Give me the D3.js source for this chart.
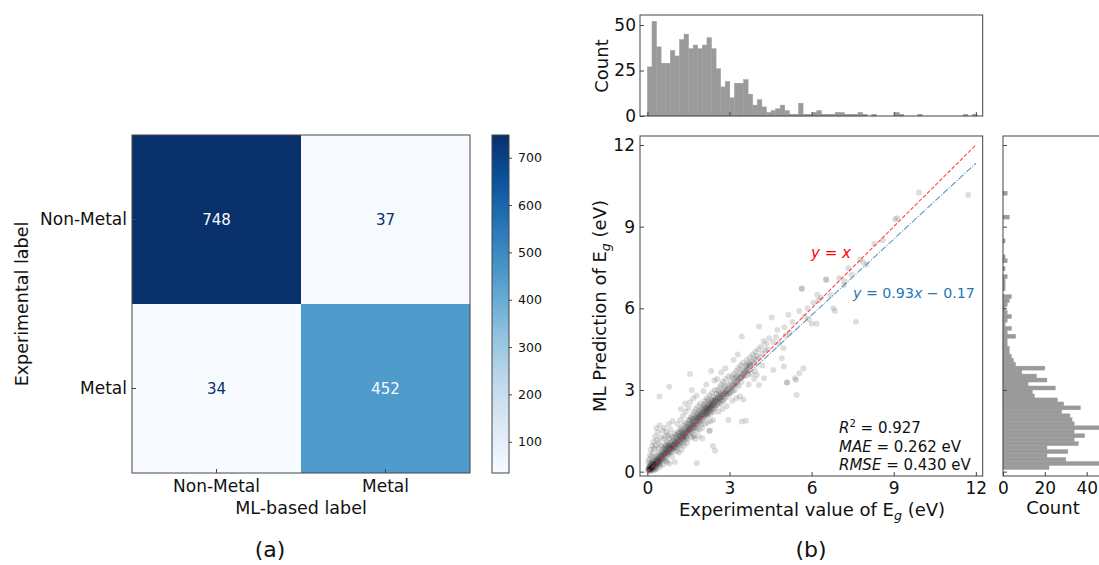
<!DOCTYPE html>
<html>
<head>
<meta charset="utf-8">
<script src="https://cdn.jsdelivr.net/npm/d3@7"></script>
<style>
  body { margin: 0; background: #fff; }
  svg { display: block; font-family: 'DejaVu Sans', sans-serif; }
</style>
</head>
<body>
<div id="chart"></div>
<script>
// ---- (a) confusion matrix ----
const classes = ['Non-Metal', 'Metal'];
const matrix = [[748, 37], [34, 452]];
const cbarTicks = [100, 200, 300, 400, 500, 600, 700];

// ---- (b) parity plot ----
const gapTicks = [0, 3, 6, 9, 12];
const fitSlope = 0.93;
const fitIntercept = 0.17; // where the drawn fit line sits in the picture
const fitLabel = 'y = 0.93x \u2212 0.17';
const statLines = [
  ['R', '2', ' = 0.927'],
  ['MAE', '', ' = 0.262 eV'],
  ['RMSE', '', ' = 0.430 eV']
];

// [experimental, predicted] pairs
const points = [
  [0.02,0.05],[0.04,0.12],[0.05,0.02],[0.06,0.2],[0.07,0.09],[0.08,0.15],[0.09,0.04],[0.1,0.1],[0.1,0.22],[0.11,0.3],
  [0.12,0.07],[0.13,0.16],[0.14,0.25],[0.15,0.12],[0.16,0.35],[0.17,0.2],[0.18,0.08],[0.19,0.28],[0.2,0.18],[0.21,0.4],
  [0.22,0.12],[0.23,0.3],[0.24,0.22],[0.25,0.5],[0.26,0.16],[0.27,0.34],[0.28,0.26],[0.29,0.42],[0.3,0.2],[0.31,0.3],
  [0.32,0.55],[0.33,0.38],[0.34,0.25],[0.35,0.45],[0.36,0.32],[0.37,0.6],[0.38,0.4],[0.39,0.28],[0.4,0.5],[0.41,0.36],
  [0.42,0.7],[0.43,0.45],[0.44,0.33],[0.45,0.55],[0.46,0.42],[0.47,0.25],[0.48,0.62],[0.49,0.48],[0.5,0.38],[0.03,0.35],
  [0.06,0.45],[0.09,0.6],[0.12,0.8],[0.15,0.55],[0.18,0.95],[0.2,0.7],[0.22,1.1],[0.25,0.85],[0.28,1.3],[0.3,0.95],
  [0.33,1.6],[0.35,1.15],[0.38,1.45],[0.4,0.85],[0.42,1.05],[0.45,1.7],[0.48,1.25],[0.5,0.95],[0.15,0.02],[0.25,0.05],
  [0.35,0.12],[0.45,0.18],[0.3,0.08],[0.2,0.3],[0.12,0.18],[0.08,0.08],[0.16,0.14],[0.24,0.28],[0.05,0.1],[0.1,0.14],
  [0.52,0.55],[0.53,0.7],[0.54,0.45],[0.55,0.62],[0.56,0.8],[0.57,0.5],[0.58,0.66],[0.59,0.9],[0.6,0.58],[0.61,0.72],
  [0.62,0.45],[0.63,0.85],[0.64,0.65],[0.65,1.0],[0.66,0.7],[0.67,0.55],[0.68,0.82],[0.69,0.95],[0.7,0.68],[0.71,0.78],
  [0.72,1.1],[0.73,0.6],[0.74,0.88],[0.75,0.75],[0.76,1.0],[0.77,0.65],[0.78,0.92],[0.79,0.8],[0.8,1.2],[0.81,0.72],
  [0.82,0.95],[0.83,0.85],[0.84,1.05],[0.85,0.7],[0.86,0.9],[0.87,1.3],[0.88,0.82],[0.89,1.0],[0.9,0.9],[0.91,0.75],
  [0.92,1.1],[0.93,0.95],[0.94,1.25],[0.95,0.85],[0.96,1.0],[0.97,1.15],[0.98,0.9],[0.99,1.4],[1.0,1.05],[0.55,1.5],
  [0.62,1.6],[0.7,1.45],[0.78,1.75],[0.85,1.55],[0.92,1.85],[0.6,1.2],[0.75,1.35],[0.58,0.25],[0.8,0.3],[1.0,0.35],
  [0.68,0.4],[0.9,0.55],[0.65,1.3],[0.72,0.35],[0.44,2.76],[0.8,3.12],
  [1.02,1.1],[1.03,0.9],[1.04,1.25],[1.05,1.0],[1.06,1.35],[1.07,1.05],[1.08,0.85],[1.09,1.2],[1.1,1.1],[1.11,1.45],
  [1.12,1.0],[1.13,1.3],[1.14,1.15],[1.15,0.95],[1.16,1.4],[1.17,1.2],[1.18,1.55],[1.19,1.1],[1.2,1.3],[1.21,1.0],
  [1.22,1.45],[1.23,1.25],[1.24,1.6],[1.25,1.15],[1.26,1.35],[1.27,1.5],[1.28,1.2],[1.29,1.05],[1.3,1.4],[1.31,1.3],
  [1.32,1.7],[1.33,1.25],[1.34,1.45],[1.35,1.15],[1.36,1.55],[1.37,1.35],[1.38,1.8],[1.39,1.4],[1.4,1.25],[1.41,1.6],
  [1.42,1.45],[1.43,1.3],[1.44,1.75],[1.45,1.5],[1.46,1.2],[1.47,1.65],[1.48,1.4],[1.49,1.55],[1.5,1.9],[1.1,1.75],
  [1.2,1.9],[1.3,2.05],[1.4,2.2],[1.15,0.7],[1.25,0.8],[1.35,0.95],[1.45,1.05],[1.05,0.75],[1.38,2.5],[1.22,2.3],
  [1.51,1.6],[1.52,1.4],[1.53,1.75],[1.54,1.55],[1.55,1.9],[1.56,1.5],[1.57,1.7],[1.58,2.0],[1.59,1.6],[1.6,1.8],
  [1.61,1.45],[1.62,1.95],[1.63,1.7],[1.64,1.6],[1.65,2.1],[1.66,1.8],[1.67,1.55],[1.68,1.9],[1.69,1.75],[1.7,2.2],
  [1.71,1.65],[1.72,1.85],[1.73,2.0],[1.74,1.7],[1.75,1.95],[1.76,1.6],[1.77,2.3],[1.78,1.85],[1.79,2.05],[1.8,1.75],
  [1.81,1.95],[1.82,2.15],[1.83,1.7],[1.84,2.0],[1.85,2.4],[1.86,1.9],[1.87,2.1],[1.88,1.8],[1.89,2.25],[1.9,2.0],
  [1.91,1.85],[1.92,2.1],[1.93,2.5],[1.94,1.95],[1.95,2.2],[1.96,2.05],[1.97,1.75],[1.98,2.3],[1.99,2.1],[2.0,1.9],
  [1.6,1.25],[1.7,1.35],[1.8,1.5],[1.9,1.55],[2.0,1.6],[1.56,2.55],[1.68,2.7],[1.8,2.8],[1.62,3.0],[1.5,2.35],
  [1.75,1.2],[1.88,1.3],[1.8,0.31],[1.56,3.59],[1.68,1.29],[2.01,1.22],
  [2.02,2.1],[2.03,2.3],[2.04,1.95],[2.05,2.2],[2.06,2.45],[2.07,2.05],[2.08,2.25],[2.09,2.6],[2.1,2.15],[2.11,2.0],
  [2.12,2.35],[2.13,2.2],[2.14,2.5],[2.15,2.1],[2.16,2.3],[2.17,2.7],[2.18,2.25],[2.19,2.05],[2.2,2.4],[2.21,2.3],
  [2.22,2.6],[2.23,2.15],[2.24,2.45],[2.25,2.35],[2.26,2.8],[2.27,2.25],[2.28,2.5],[2.29,2.1],[2.3,2.4],[2.31,2.65],
  [2.32,2.3],[2.33,2.55],[2.34,2.2],[2.35,2.45],[2.36,2.9],[2.37,2.4],[2.38,2.6],[2.39,2.3],[2.4,2.5],[2.41,2.75],
  [2.42,2.2],[2.43,2.55],[2.44,2.45],[2.45,2.65],[2.46,3.0],[2.47,2.4],[2.48,2.6],[2.49,2.35],[2.5,2.7],[2.1,1.75],
  [2.2,1.8],[2.3,1.85],[2.4,1.9],[2.25,1.5],[2.39,0.94],[2.47,0.77],[2.05,2.95],[2.15,3.2],[2.33,3.7],[2.45,3.35],
  [2.29,1.5],[2.06,2.4],[2.18,2.15],[2.27,2.35],
  [2.52,2.6],[2.53,2.85],[2.54,2.45],[2.56,2.7],[2.57,3.0],[2.58,2.55],[2.6,2.75],[2.61,2.5],[2.62,2.9],[2.64,2.65],
  [2.65,3.1],[2.66,2.7],[2.68,2.5],[2.69,2.85],[2.7,3.2],[2.72,2.75],[2.73,2.6],[2.75,2.95],[2.76,3.3],[2.78,2.8],
  [2.79,2.6],[2.8,3.05],[2.82,2.9],[2.83,2.7],[2.85,3.15],[2.86,3.4],[2.88,2.85],[2.9,3.0],[2.91,2.75],[2.93,3.2],
  [2.95,2.9],[2.96,3.5],[2.98,3.05],[3.0,2.85],[2.6,2.2],[2.75,2.3],[2.9,2.4],[2.96,1.9],[2.7,3.65],[2.85,3.8],
  [2.55,3.4],[2.63,2.8],[2.77,2.85],[2.87,2.95],
  [3.02,3.1],[3.04,2.9],[3.05,3.3],[3.07,3.05],[3.08,3.5],[3.1,3.2],[3.12,2.95],[3.14,3.4],[3.15,3.15],[3.17,3.6],
  [3.18,3.25],[3.2,3.0],[3.22,3.45],[3.24,3.3],[3.25,3.7],[3.27,3.2],[3.28,3.5],[3.3,3.35],[3.32,3.8],[3.33,3.4],
  [3.35,3.15],[3.37,3.6],[3.38,3.45],[3.4,3.9],[3.42,3.5],[3.44,3.3],[3.45,3.75],[3.47,3.55],[3.48,4.0],[3.5,3.6],
  [3.1,2.6],[3.25,2.7],[3.38,2.76],[3.45,1.84],[3.6,1.87],[3.51,2.65],[3.45,4.96],[3.3,4.3],[3.15,4.1],[3.6,3.7],
  [3.52,3.7],[3.55,3.5],[3.58,3.9],[3.6,3.65],[3.63,4.1],[3.65,3.8],[3.68,3.55],[3.7,4.0],[3.72,3.85],[3.75,4.2],
  [3.78,3.9],[3.8,3.6],[3.83,4.05],[3.85,4.3],[3.88,3.95],[3.9,4.15],[3.93,3.7],[3.95,4.4],[3.98,4.1],[4.0,4.25],
  [4.05,4.5],[4.08,5.33],[4.1,4.2],[4.15,4.6],[4.2,4.35],[4.26,3.43],[4.08,3.18],[4.25,4.8],[4.3,4.45],[4.35,4.7],
  [4.4,4.5],[4.45,4.9],[4.54,5.66],[3.7,3.2],[3.9,3.4],[4.0,3.55],[4.2,3.9],[3.63,3.9],[3.66,3.75],[3.76,3.95],
  [4.6,4.75],[4.6,3.73],[4.7,4.95],[4.8,4.7],[4.91,4.17],[4.97,4.53],[4.99,3.86],[5.0,5.3],[5.09,3.27],[5.11,3.28],
  [5.15,5.76],[5.2,5.1],[5.3,5.5],[5.39,3.43],[5.43,3.37],[5.45,2.82],[5.55,3.61],[5.55,5.9],[5.64,6.71],[5.64,6.74],
  [5.7,3.8],[5.75,5.7],[5.85,6.0],[6.0,5.43],[6.06,6.2],[6.18,5.43],[6.2,6.5],[6.25,6.3],[6.35,6.4],[5.9,5.6],
  [4.75,5.2],[5.05,5.0],
  [6.53,7.04],[6.53,7.07],[6.69,6.49],[6.79,6.0],[6.85,5.9],[7.01,7.1],[7.18,6.86],[7.34,7.47],[7.46,7.23],[7.62,5.51],
  [7.77,7.8],[7.88,7.7],[8.0,7.6],[8.29,8.37],[9.05,9.27],[9.13,9.31],[9.92,10.25],[11.72,10.16],[8.6,8.5],[7.2,7.0]
];

// ---- marginal histograms ----
const expBinStart = 0;
const expBinWidth = 0.1673;
const expCounts = [
  27, 52, 38, 29, 29, 36, 33, 42, 45, 37, 39, 37, 39, 43, 37, 26, 16, 19, 10, 18,
  18, 20, 12, 6, 9, 5, 2, 3, 4, 6, 3, 1, 1, 7, 1, 1, 2, 3, 1, 1,
  1, 2, 2, 1, 1, 1, 2, 1, 0, 1, 0, 0, 0, 0, 2, 1, 0, 0, 0, 1,
  0, 0, 0, 0, 0, 0, 0, 0, 0, 1, 0, 1
];
const predBinStart = 0.08;
const predBinWidth = 0.146;
const predCounts = [
  22, 48, 30, 21, 31, 21, 36, 34, 39, 34, 47, 34, 33, 32, 28, 37, 29, 26, 15, 14,
  25, 12, 21, 16, 9, 20, 6, 5, 4, 3, 3, 2, 2, 6, 2, 4, 1, 2, 4, 2,
  1, 2, 3, 4, 0, 1, 1, 1, 2, 0, 1, 0, 2, 1, 0, 0, 0, 1, 0, 0,
  0, 0, 0, 3, 0, 0, 0, 0, 0, 2
];
const topCountTicks = [0, 25, 50];
const sideCountTicks = [0, 20, 40];

const W = 1099, H = 565;
const FRAME = '#444';
const BAR = '#9a9a9a';
const TICK_FONT = 17;
const LABEL_FONT = 18;

// shared scales of the parity plot and its marginals
const sx = d3.scaleLinear().domain([-0.27, 12.25]).range([640, 982.7]);
const sy = d3.scaleLinear().domain([-0.16, 12.33]).range([476, 136]);

const svg = d3.select('#chart').append('svg')
  .attr('width', W).attr('height', H);
svg.append('rect').attr('width', W).attr('height', H).attr('fill', '#fff');
const defs = svg.append('defs');

function frame(g, x0, y0, x1, y1) {
  g.append('rect')
    .attr('x', x0).attr('y', y0)
    .attr('width', x1 - x0).attr('height', y1 - y0)
    .attr('fill', 'none').attr('stroke', FRAME).attr('stroke-width', 1);
}

function styleAxis(sel, size, showLabels) {
  sel.select('.domain').remove();
  sel.selectAll('.tick line').attr('stroke', FRAME);
  sel.selectAll('.tick text')
    .attr('fill', '#111')
    .style('font-size', size + 'px')
    .style('font-family', "'DejaVu Sans', sans-serif");
  if (!showLabels) sel.selectAll('.tick text').remove();
}

function subLabel(g, x, y, rotate, parts, size) {
  // parts: [text, sub, rest]
  const t = g.append('text')
    .attr('transform', 'translate(' + x + ',' + y + ')' + (rotate ? ' rotate(-90)' : ''))
    .attr('text-anchor', 'middle')
    .attr('fill', '#111')
    .style('font-size', size + 'px');
  t.append('tspan').text(parts[0]);
  t.append('tspan').attr('dy', 4).style('font-size', (size * 0.7) + 'px')
    .style('font-style', 'italic').text(parts[1]);
  t.append('tspan').attr('dy', -4).text(parts[2]);
}

drawConfusion();
drawParity();
drawTopHist();
drawSideHist();

// panel letters
svg.append('text').attr('x', 270).attr('y', 557).attr('text-anchor', 'middle')
  .style('font-size', '22px').attr('fill', '#111').text('(a)');
svg.append('text').attr('x', 811).attr('y', 557).attr('text-anchor', 'middle')
  .style('font-size', '22px').attr('fill', '#111').text('(b)');

function drawConfusion() {
  const g = svg.append('g');
  const x = d3.scaleBand().domain(classes).range([132, 470]);
  const y = d3.scaleBand().domain(classes).range([135, 473]);
  const color = d3.scaleSequential(d3.interpolateBlues).domain([34, 748]);
  const mid = (34 + 748) / 2;

  const cells = [];
  matrix.forEach((row, i) => row.forEach((v, j) => cells.push({ r: classes[i], c: classes[j], v })));

  g.selectAll('rect.cell').data(cells).join('rect')
    .attr('class', 'cell')
    .attr('x', d => x(d.c)).attr('y', d => y(d.r))
    .attr('width', x.bandwidth()).attr('height', y.bandwidth())
    .attr('fill', d => color(d.v));

  g.selectAll('text.val').data(cells).join('text')
    .attr('class', 'val')
    .attr('x', d => x(d.c) + x.bandwidth() / 2)
    .attr('y', d => y(d.r) + y.bandwidth() / 2)
    .attr('dy', '0.36em')
    .attr('text-anchor', 'middle')
    .style('font-size', '15px')
    .attr('fill', d => d.v > mid || d.v > 400 ? color(34) : color(748))
    .text(d => d.v);

  const xa = g.append('g').attr('transform', 'translate(0,473)')
    .call(d3.axisBottom(x).tickSize(-4).tickPadding(7));
  styleAxis(xa, TICK_FONT, true);
  const ya = g.append('g').attr('transform', 'translate(132,0)')
    .call(d3.axisLeft(y).tickSize(-4).tickPadding(5));
  styleAxis(ya, TICK_FONT, true);
  frame(g, 132, 135, 470, 473);

  g.append('text').attr('x', 301).attr('y', 514).attr('text-anchor', 'middle')
    .style('font-size', '17.5px').attr('fill', '#111').text('ML-based label');
  g.append('text').attr('transform', 'translate(28,304) rotate(-90)')
    .attr('text-anchor', 'middle')
    .style('font-size', '17.5px').attr('fill', '#111').text('Experimental label');

  // colorbar
  const cy = d3.scaleLinear().domain([34, 748]).range([473, 135]);
  const grad = defs.append('linearGradient')
    .attr('id', 'cbar').attr('x1', 0).attr('y1', 1).attr('x2', 0).attr('y2', 0);
  d3.range(0, 1.0001, 0.05).forEach(t => {
    grad.append('stop').attr('offset', t).attr('stop-color', d3.interpolateBlues(t));
  });
  g.append('rect').attr('x', 492).attr('y', 135).attr('width', 17).attr('height', 338)
    .attr('fill', 'url(#cbar)');
  const ca = g.append('g').attr('transform', 'translate(509,0)')
    .call(d3.axisRight(cy).tickValues(cbarTicks).tickSize(3).tickPadding(6));
  styleAxis(ca, 12.5, true);
  frame(g, 492, 135, 509, 473);
}

function drawParity() {
  const g = svg.append('g');
  defs.append('clipPath').attr('id', 'plotclip').append('rect')
    .attr('x', 640).attr('y', 136).attr('width', 342.7).attr('height', 340);

  const pts = g.append('g').attr('clip-path', 'url(#plotclip)');
  pts.selectAll('circle').data(points).join('circle')
    .attr('cx', d => sx(d[0])).attr('cy', d => sy(d[1]))
    .attr('r', 3)
    .attr('fill', '#000').attr('fill-opacity', 0.13);

  const line = d3.line().x(d => sx(d[0])).y(d => sy(d[1]));
  pts.append('path').datum([[0, 0], [12, 12]])
    .attr('d', line).attr('fill', 'none')
    .attr('stroke', '#ff2a2a').attr('stroke-opacity', 0.85).attr('stroke-width', 1.1)
    .attr('stroke-dasharray', '4,1.8');
  pts.append('path').datum([[0, fitIntercept], [12, fitSlope * 12 + fitIntercept]])
    .attr('d', line).attr('fill', 'none')
    .attr('stroke', '#1f77b4').attr('stroke-opacity', 0.75).attr('stroke-width', 1.1)
    .attr('stroke-dasharray', '6.4,1.6,1,1.6');

  const xa = g.append('g').attr('transform', 'translate(0,476)')
    .call(d3.axisBottom(sx).tickValues(gapTicks).tickSize(-4).tickPadding(6));
  styleAxis(xa, TICK_FONT, true);
  const ya = g.append('g').attr('transform', 'translate(640,0)')
    .call(d3.axisLeft(sy).tickValues(gapTicks).tickSize(-4).tickPadding(5));
  styleAxis(ya, TICK_FONT, true);
  frame(g, 640, 136, 982.7, 476);

  subLabel(g, 812, 516, false, ['Experimental value of E', 'g', ' (eV)'], LABEL_FONT);
  subLabel(g, 606, 306, true, ['ML Prediction of E', 'g', ' (eV)'], LABEL_FONT);

  // line labels
  const t1 = g.append('text').attr('x', 811).attr('y', 258)
    .style('font-size', '15px').attr('fill', 'red');
  t1.append('tspan').style('font-style', 'italic').text('y');
  t1.append('tspan').text(' = ');
  t1.append('tspan').style('font-style', 'italic').text('x');

  const parts = fitLabel.split(/([xy])/).filter(s => s.length);
  const t2 = g.append('text').attr('x', 853).attr('y', 298)
    .style('font-size', '14.2px').attr('fill', '#1f77b4');
  parts.forEach(p => {
    t2.append('tspan').style('font-style', /^[xy]$/.test(p) ? 'italic' : 'normal').text(p);
  });

  // stats text
  statLines.forEach((s, i) => {
    const t = g.append('text').attr('x', 839).attr('y', 433 + i * 18.5)
      .style('font-size', '15px').attr('fill', '#111');
    t.append('tspan').style('font-style', 'italic').text(s[0]);
    if (s[1]) t.append('tspan').attr('dy', -6).style('font-size', '10px').text(s[1]);
    t.append('tspan').attr('dy', s[1] ? 6 : 0).text(s[2]);
  });
}

function drawTopHist() {
  const g = svg.append('g');
  const hy = d3.scaleLinear().domain([0, 55.5]).range([116, 15]);
  const bins = expCounts.map((c, i) => ({ x0: expBinStart + i * expBinWidth, x1: expBinStart + (i + 1) * expBinWidth, c }));
  g.selectAll('rect.bar').data(bins.filter(b => b.c > 0)).join('rect')
    .attr('class', 'bar')
    .attr('x', d => sx(d.x0)).attr('width', d => sx(d.x1) - sx(d.x0))
    .attr('y', d => hy(d.c)).attr('height', d => hy(0) - hy(d.c))
    .attr('fill', BAR).attr('stroke', BAR).attr('stroke-width', 0.4);

  const xa = g.append('g').attr('transform', 'translate(0,116)')
    .call(d3.axisBottom(sx).tickValues(gapTicks).tickSize(-4));
  styleAxis(xa, TICK_FONT, false);
  const ya = g.append('g').attr('transform', 'translate(640,0)')
    .call(d3.axisLeft(hy).tickValues(topCountTicks).tickSize(-4).tickPadding(4));
  styleAxis(ya, TICK_FONT, true);
  frame(g, 640, 15, 982.7, 116);

  g.append('text').attr('transform', 'translate(608,66) rotate(-90)')
    .attr('text-anchor', 'middle')
    .style('font-size', LABEL_FONT + 'px').attr('fill', '#111').text('Count');
}

function drawSideHist() {
  const g = svg.append('g');
  const hx = d3.scaleLinear().domain([0, 40]).range([1003, 1086.7]);
  const bins = predCounts.map((c, i) => ({ y0: predBinStart + i * predBinWidth, y1: predBinStart + (i + 1) * predBinWidth, c }));
  g.selectAll('rect.bar').data(bins.filter(b => b.c > 0)).join('rect')
    .attr('class', 'bar')
    .attr('x', hx(0)).attr('width', d => hx(d.c) - hx(0))
    .attr('y', d => sy(d.y1)).attr('height', d => sy(d.y0) - sy(d.y1))
    .attr('fill', BAR).attr('stroke', BAR).attr('stroke-width', 0.4);

  const xa = g.append('g').attr('transform', 'translate(0,476)')
    .call(d3.axisBottom(hx).tickValues(sideCountTicks).tickSize(-4).tickPadding(6));
  styleAxis(xa, TICK_FONT, true);
  const ya = g.append('g').attr('transform', 'translate(1003,0)')
    .call(d3.axisLeft(sy).tickValues(gapTicks).tickSize(-4));
  styleAxis(ya, TICK_FONT, false);
  frame(g, 1003, 136, 1130, 476);

  g.append('text').attr('x', 1053).attr('y', 514).attr('text-anchor', 'middle')
    .style('font-size', LABEL_FONT + 'px').attr('fill', '#111').text('Count');
}
</script>
</body>
</html>
